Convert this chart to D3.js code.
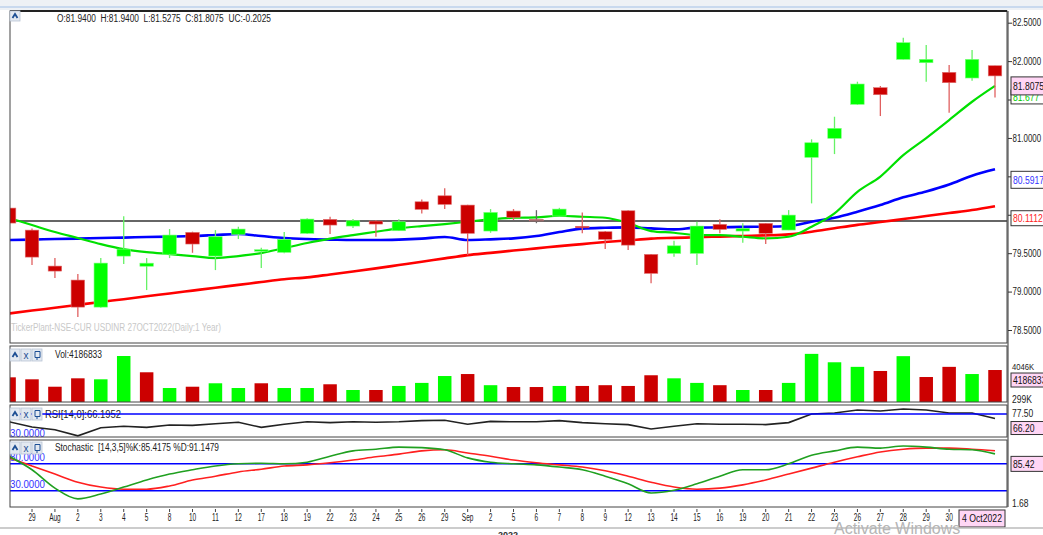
<!DOCTYPE html>
<html><head><meta charset="utf-8">
<script src="https://cdn.jsdelivr.net/npm/d3@7"></script>
<style>
body{margin:0;background:#fff;overflow:hidden;}
svg{display:block;font-family:"Liberation Sans",Arial,sans-serif;}
</style></head><body>
<svg id="c" width="1043" height="535"></svg>
<script>
// ---- data (index -1 = 28 Jul, partially hidden; 0..42 = 29 Jul .. 4 Oct 2022)
const dayLabels = ["28","29","Aug","2","3","4","5","8","10","11","12","17","18","19","22","23","24","25","26","29","Sep","2","5","6","7","8","9","12","13","14","15","16","19","20","21","22","23","26","27","28","29","30","3","4"];
const open  = [80.087,79.80,79.332,79.150,78.798,79.462,79.33,79.486,79.771,79.462,79.745,79.535,79.51,79.758,79.94,79.853,79.918,79.792,80.169,80.247,80.126,79.788,80.048,79.94,79.983,79.85,79.779,80.052,79.484,79.497,79.497,79.875,79.788,79.888,79.801,80.747,80.995,81.4375,81.654,82.023,81.979,81.854,81.78,81.94];
const high  = [80.10,79.82,79.436,79.228,79.436,79.98,79.436,79.814,79.78,79.80,79.844,79.57,79.775,79.955,79.974,79.944,79.93,79.94,80.20,80.344,80.13,80.074,80.074,80.06,80.09,80.031,79.79,80.06,79.49,79.661,79.909,79.94,79.888,79.89,80.061,80.982,81.276,81.732,81.676,82.305,82.21,81.949,82.145,81.94];
const low   = [79.88,79.345,79.176,78.668,78.79,79.358,79.02,79.436,79.505,79.28,79.684,79.306,79.50,79.75,79.749,79.827,79.714,79.79,80.018,80.074,79.475,79.766,79.931,79.89,79.98,79.758,79.553,79.54,79.107,79.453,79.345,79.758,79.636,79.62,79.80,80.148,80.79,81.43,81.285,82.02,81.732,81.328,81.745,81.5275];
const close = [79.892,79.449,79.267,78.798,79.371,79.553,79.37,79.736,79.619,79.714,79.814,79.545,79.68,79.944,79.866,79.922,79.879,79.909,80.07,80.135,79.758,80.031,79.966,79.94,80.074,79.84,79.68,79.605,79.237,79.596,79.853,79.81,79.823,79.758,79.996,80.9375,81.125,81.702,81.5625,82.24,82.023,81.719,82.023,81.8075];
const maFast = [79.957,79.866,79.775,79.697,79.618,79.553,79.514,79.488,79.462,79.436,79.462,79.501,79.566,79.632,79.690,79.736,79.779,79.823,79.853,79.879,79.909,79.940,79.961,79.966,79.987,79.974,79.961,79.892,79.788,79.766,79.736,79.736,79.714,79.693,79.714,79.844,80.018,80.299,80.497,80.777,80.999,81.233,81.471,81.677];
const maMid  = [79.671,79.677,79.684,79.690,79.697,79.703,79.710,79.716,79.723,79.736,79.749,79.723,79.697,79.684,79.677,79.671,79.671,79.677,79.690,79.710,79.671,79.680,79.693,79.723,79.775,79.820,79.831,79.836,79.823,79.810,79.833,79.836,79.842,79.844,79.853,79.909,79.961,80.039,80.126,80.227,80.302,80.393,80.508,80.5917];
const maSlow = [78.715,78.753,78.789,78.827,78.865,78.901,78.939,78.975,79.013,79.051,79.087,79.125,79.161,79.185,79.223,79.262,79.302,79.345,79.388,79.432,79.475,79.504,79.534,79.562,79.592,79.618,79.645,79.667,79.690,79.699,79.707,79.716,79.724,79.732,79.745,79.779,79.824,79.868,79.905,79.944,79.983,80.022,80.061,80.1112];
const refLevel = 79.92;
const volume = [3230000,2970000,2000000,3100000,2970000,6020000,3890000,1830000,2000000,2450000,1830000,2450000,1830000,1830000,2320000,1570000,1570000,2100000,2500000,3400000,3660000,2200000,1960000,1960000,2100000,2100000,2200000,2100000,3500000,3100000,2500000,2200000,1570000,1570000,2500000,6300000,5200000,4600000,4060000,6000000,3270000,4600000,3660000,4186833];
const rsi = [58,45,38,23,43,47,44,50,49,53,57,44,52,58,56,58,57,58,61,62,52,59,58,58,61,56,53,51,40,47,53,52,52,51,56,77.5,80,87.5,85,90,87.5,80,80,66.2];
const stochK = [81,56,22,2,11,24,37,48,56,63,67,68,67,70,81,91,94,98,97,93,78,70,67,65,61,56,44,30,13,18,30,44,56,56,67,83,91,98,96,100,98,94,93,85.42];
const stochD = [78,63,48,33,24,20,20,26,37,44,52,57,63,65,69,74,80,85,91,93,87,81,74,69,65,61,54,44,33,24,20,22,28,37,48,59,70,80,89,94,96,96,94,91.15];
const priceTicks = [78.5,79,79.5,80,80.5,81,81.5,82,82.5];
const hiddenTicks = [80,80.5,81.5]; // covered by the value boxes in the original
const rsiLevel = 77.5, rsiLow = 30;
const stochLevels = [80,30];

// ---- helpers
function condense(sel, f){
  sel.each(function(){
    const w = this.getComputedTextLength();
    d3.select(this).attr("textLength", w*f).attr("lengthAdjust","spacingAndGlyphs");
  });
  return sel;
}
function fit(sel, w){ return sel.attr("textLength", w).attr("lengthAdjust","spacingAndGlyphs"); }

// ---- layout
const svg = d3.select("#c");
const L = 10, R = 1007;
const idx = d3.range(-1, 43);
const x = d3.scaleLinear().domain([0,42]).range([32,995]);
const yP = d3.scaleLinear().domain([78.5,82.5]).range([330,22.7]);
const yV = d3.scaleLinear().domain([0,7330000]).range([402,346]);
const yR = d3.scaleLinear().domain([20,100]).range([437,405]);
const yS = d3.scaleLinear().domain([0,100]).range([500,446]);
const GREEN = "#00ff00", RED = "#cc0000";

// background bits
svg.append("rect").attr("x",0).attr("y",0).attr("width",1043).attr("height",10).attr("fill","#eef1f5");
svg.append("line").attr("x1",0).attr("x2",1043).attr("y1",7).attr("y2",7).attr("stroke","#c9d9ee").attr("stroke-width",2);

const panels = [
  {id:"p", y0:11, y1:343},
  {id:"v", y0:346, y1:402},
  {id:"r", y0:405, y1:437},
  {id:"s", y0:440, y1:507}
];
const defs = svg.append("defs");
panels.forEach(p=>{
  defs.append("clipPath").attr("id","clip-"+p.id).append("rect")
    .attr("x",L).attr("y",p.y0).attr("width",R-L).attr("height",p.y1-p.y0);
  svg.append("rect").attr("x",L).attr("y",p.y0).attr("width",R-L).attr("height",p.y1-p.y0)
    .attr("fill","#fff");
});

// ---- price panel
const gp = svg.append("g").attr("clip-path","url(#clip-p)");
fit(gp.append("text").attr("x",L+1).attr("y",331).attr("font-size",10).attr("fill","#c8c8c8")
  .text("TickerPlant-NSE-CUR USDINR 27OCT2022(Daily:1 Year)"), 210);
gp.append("line").attr("x1",L).attr("x2",R).attr("y1",yP(refLevel)).attr("y2",yP(refLevel))
  .attr("stroke","#333").attr("stroke-width",1.5);
const lineGen = arr => d3.line().x(i=>x(i)).y(i=>yP(arr[i+1])).curve(d3.curveMonotoneX)(idx);
gp.append("path").attr("d",lineGen(maSlow)).attr("fill","none").attr("stroke","#ff0000").attr("stroke-width",2.6);
gp.append("path").attr("d",lineGen(maMid)).attr("fill","none").attr("stroke","#0000ff").attr("stroke-width",2.6);
gp.append("path").attr("d",lineGen(maFast)).attr("fill","none").attr("stroke","#00e000").attr("stroke-width",2.2);

const bw = 13.5;
const cg = gp.selectAll("g.c").data(idx).join("g");
cg.append("line").attr("x1",i=>x(i)).attr("x2",i=>x(i))
  .attr("y1",i=>yP(high[i+1])).attr("y2",i=>yP(low[i+1]))
  .attr("stroke",i=>close[i+1]>open[i+1]?"#66f266":(close[i+1]<open[i+1]?"#e06060":"#666"))
  .attr("stroke-width",1.3);
cg.append("rect").attr("x",i=>x(i)-bw/2).attr("width",bw)
  .attr("y",i=>yP(Math.max(open[i+1],close[i+1])))
  .attr("height",i=>Math.max(1.5,Math.abs(yP(open[i+1])-yP(close[i+1]))))
  .attr("fill",i=>close[i+1]>open[i+1]?GREEN:(close[i+1]<open[i+1]?RED:"#666"))
  .attr("stroke",i=>close[i+1]>open[i+1]?"#7dff7d":"#e07070").attr("stroke-width",0.6);

// ---- volume panel
const gv = svg.append("g").attr("clip-path","url(#clip-v)");
gv.selectAll("rect").data(idx).join("rect")
  .attr("x",i=>x(i)-bw/2).attr("width",bw)
  .attr("y",i=>yV(volume[i+1])).attr("height",i=>yV(0)-yV(volume[i+1]))
  .attr("fill",i=>{ const prev = i<0 ? close[0] : close[i]; return close[i+1]>=prev && i>=0 ? GREEN : RED; });

// ---- RSI panel
const gr = svg.append("g").attr("clip-path","url(#clip-r)");
gr.append("path").attr("d",d3.line().x(i=>x(i)).y(i=>yR(rsi[i+1]))(idx))
  .attr("fill","none").attr("stroke","#222").attr("stroke-width",1.6);
fit(gr.append("text").attr("x",L).attr("y",yR(rsiLow)+4).attr("font-size",10.5).attr("fill","#3333ff").text("30.0000"),35);
fit(gr.append("text").attr("x",45).attr("y",yR(rsiLevel)+3.5).attr("font-size",10).attr("fill","#222").text("RSI[14,0]:66.1952"),76);
gr.append("line").attr("x1",L).attr("x2",R).attr("y1",yR(rsiLevel)).attr("y2",yR(rsiLevel))
  .attr("stroke","#0000ff").attr("stroke-width",1.6);

// ---- Stochastic panel
const gs = svg.append("g").attr("clip-path","url(#clip-s)");
stochLevels.forEach(v=>{
  fit(gs.append("text").attr("x",L).attr("y",yS(v)+4).attr("font-size",10.5).attr("fill","#3333ff").text(v.toFixed(4)),35);
  gs.append("line").attr("x1",L).attr("x2",R).attr("y1",yS(v)+7).attr("y2",yS(v)+7)
    .attr("stroke","#0000ff").attr("stroke-width",1.6);
});
gs.append("path").attr("d",d3.line().x(i=>x(i)).y(i=>yS(stochD[i+1])).curve(d3.curveMonotoneX)(idx))
  .attr("fill","none").attr("stroke","#ff2020").attr("stroke-width",1.6);
gs.append("path").attr("d",d3.line().x(i=>x(i)).y(i=>yS(stochK[i+1])).curve(d3.curveMonotoneX)(idx))
  .attr("fill","none").attr("stroke","#20a020").attr("stroke-width",1.6);

// panel frames
panels.forEach(p=>{
  svg.append("rect").attr("x",L).attr("y",p.y0).attr("width",R-L).attr("height",p.y1-p.y0)
    .attr("fill","none").attr("stroke","#444").attr("stroke-width",1);
});
svg.append("line").attr("x1",L).attr("x2",R).attr("y1",11).attr("y2",11).attr("stroke","#222").attr("stroke-width",2);

// headers
fit(svg.append("text").attr("x",57).attr("y",22).attr("font-size",10).attr("fill","#222")
  .text("O:81.9400  H:81.9400  L:81.5275  C:81.8075  UC:-0.2025").style("white-space","pre"),214);
fit(svg.append("text").attr("x",55).attr("y",358).attr("font-size",10).attr("fill","#222").text("Vol:4186833"),47);
fit(svg.append("text").attr("x",55).attr("y",451).attr("font-size",10).attr("fill","#222")
  .text("Stochastic  [14,3,5]%K:85.4175 %D:91.1479").style("white-space","pre"),164);

// buttons
function btn(xx,yy,w,h,glyph){
  const g = svg.append("g");
  g.append("rect").attr("x",xx).attr("y",yy).attr("width",w).attr("height",h)
    .attr("fill","#e3e9f1").attr("stroke","#b8c4d4").attr("stroke-width",0.8);
  if(glyph==="^") g.append("path").attr("d",`M${xx+2.5},${yy+h/2+2} L${xx+w/2},${yy+h/2-2} L${xx+w-2.5},${yy+h/2+2}`)
    .attr("fill","none").attr("stroke","#1d4f94").attr("stroke-width",1.8);
  else if(glyph==="x") g.append("text").attr("x",xx+w/2).attr("y",yy+h/2+3.5).attr("text-anchor","middle")
    .attr("font-size",10).attr("fill","#1d4f94").text("x");
  else g.append("path").attr("d",`M${xx+3},${yy+2.5} h5 v6 h-5 z M${xx+5},${yy+8.5} v2.5`)
    .attr("fill","none").attr("stroke","#1d4f94").attr("stroke-width",1);
}
btn(10,11,10,10,"^");
[[349],[408],[442]].forEach(([yy])=>{ btn(10,yy,10,12,"^"); btn(21,yy,10,12,"x"); btn(32,yy,10,12,"i"); });

// ---- right axis
svg.append("line").attr("x1",1008).attr("x2",1008).attr("y1",11).attr("y2",507).attr("stroke","#333");
const ra = svg.append("g").attr("transform","translate(1008,0)")
  .call(d3.axisRight(yP).tickValues(priceTicks)
    .tickFormat(v=>hiddenTicks.includes(v)?"":d3.format(".4f")(v)).tickSize(4).tickPadding(0.5));
ra.select(".domain").remove();
ra.selectAll("text").attr("font-size",10).attr("fill","#222").attr("font-family","Liberation Sans, Arial");
condense(ra.selectAll("text").filter(function(){return this.textContent!=="";}), 0.79);
ra.selectAll("line").attr("stroke","#333");

function box(yc,txt,fill,col,h){
  h = h||16;
  svg.append("rect").attr("x",1011).attr("y",yc-h/2).attr("width",40).attr("height",h)
    .attr("fill",fill).attr("stroke","#333").attr("stroke-width",1);
  condense(svg.append("text").attr("x",1013).attr("y",yc+4).attr("font-size",11).attr("fill",col).text(txt),0.78);
}
box(yP(maFast[43])+11,"81.677","#fff","#00cc00",14);
box(yP(close[43])+10,"81.8075","#ffd6f5","#111",18);
box(yP(maMid[43])+10.5,"80.5917","#fff","#3333ff",17);
box(yP(maSlow[43])+12,"80.1112","#fff","#ff2222",15);

// volume axis
condense(svg.append("text").attr("x",1012).attr("y",yV(4046000)-1).attr("font-size",9).attr("fill","#222").text("4046K"),0.85);
box(yV(volume[43])+10,"4186833","#ffd6f5","#111",14);
condense(svg.append("text").attr("x",1012).attr("y",yV(299000)+3.5).attr("font-size",10).attr("fill","#222").text("299K"),0.85);
// rsi axis
condense(svg.append("text").attr("x",1012).attr("y",yR(rsiLevel)+3).attr("font-size",10).attr("fill","#222").text("77.50"),0.85);
box(yR(rsi[43])+9.5,"66.20","#ffd6f5","#111",13);
// stoch axis
box(yS(stochK[43])+10,"85.42","#ffd6f5","#111",15);
condense(svg.append("text").attr("x",1012).attr("y",yS(1.68)+7.5).attr("font-size",10).attr("fill","#222").text("1.68"),0.85);

// ---- bottom date axis
const xl = svg.append("g");
idx.forEach(i=>{
  const xx = x(i);
  if(xx < 20 || xx > 955) return;
  xl.append("line").attr("x1",xx).attr("x2",xx).attr("y1",509).attr("y2",512).attr("stroke","#444");
  condense(xl.append("text").attr("x",xx).attr("y",521).attr("text-anchor","middle").attr("font-size",10)
    .attr("fill","#222").text(dayLabels[i+1]),0.65);
});
svg.append("rect").attr("x",959).attr("y",510).attr("width",46).attr("height",17)
  .attr("fill","#ffd6f5").attr("stroke","#333");
fit(svg.append("text").attr("x",962).attr("y",522).attr("font-size",10.5).attr("fill","#111").text("4 Oct2022"),40);
svg.append("line").attr("x1",0).attr("x2",1043).attr("y1",528).attr("y2",528).attr("stroke","#bbb").attr("stroke-width",1.5);
svg.append("text").attr("x",498).attr("y",538).attr("font-size",9).attr("font-weight","bold").attr("fill","#333").text("2022");
svg.append("text").attr("x",834).attr("y",534).attr("font-size",16).attr("fill","#b5b5b5").text("Activate Windows");
</script>
</body></html>
